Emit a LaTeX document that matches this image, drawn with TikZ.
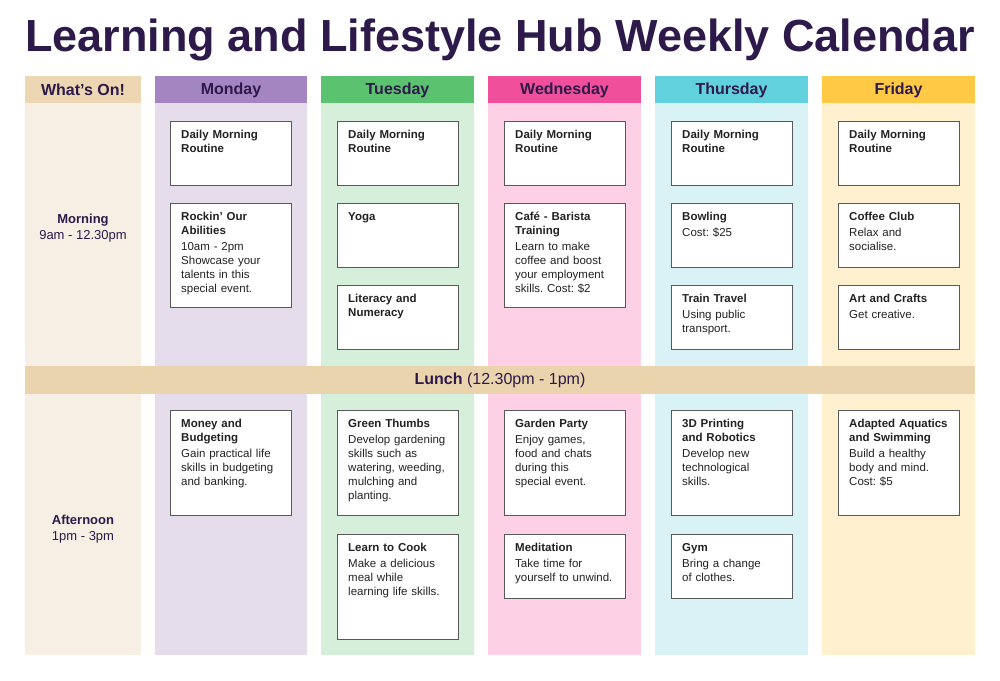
\documentclass[tikz,border=0pt]{standalone}
\usepackage{fontspec}
\setmainfont{Liberation Sans}
\frenchspacing
\definecolor{ink}{HTML}{2D1A4A}
\definecolor{txt}{HTML}{222222}
\definecolor{wh}{HTML}{ECD7B2}\definecolor{wb}{HTML}{F7EFE4}
\definecolor{mh}{HTML}{A585C1}\definecolor{mb}{HTML}{E6DDEC}
\definecolor{th}{HTML}{5BC26F}\definecolor{tb}{HTML}{D5EFDB}
\definecolor{dh}{HTML}{EF4F9B}\definecolor{db}{HTML}{FDD0E6}
\definecolor{hh}{HTML}{62D1DE}\definecolor{hb}{HTML}{D8F2F5}
\definecolor{fh}{HTML}{FFC845}\definecolor{fb}{HTML}{FFF0CF}
\definecolor{lunch}{HTML}{E9D4AE}
\tikzset{
 hdr/.style={inner sep=0pt,font=\fontsize{16}{18}\selectfont\bfseries,text=ink},
 cardbox/.style={draw=black!65,line width=0.7pt,fill=white},
 cardtxt/.style={anchor=north west,inner sep=0pt,text width=112pt,align=left,font=\fontsize{11.5}{14}\selectfont,text=txt},
 side/.style={align=center,inner sep=0pt,font=\fontsize{13}{16}\selectfont,text=ink},
}
\newcommand{\mycard}[6]{%
 \draw[cardbox] (#2,#3) rectangle (#2+121,#4);
 \node[cardtxt] (#1) at (#2+11,#3+9) {\textbf{#5}\\[2pt]#6};}
\newcommand{\mycol}[6]{%
 \fill[#4] (#2,103) rectangle (#3,655);
 \fill[#5] (#2,76) rectangle (#3,103);
 \node[hdr] (#1) at ({(#2+#3)/2},90) {#6};}
\begin{document}
\begin{tikzpicture}[x=1pt,y=-1pt]
\useasboundingbox (0,0) rectangle (1000,680);
\node[inner sep=0pt,font=\fontsize{45}{48}\selectfont\bfseries,text=ink] (title) at (500,40) {Learning and Lifestyle Hub Weekly Calendar};
\mycol{what}{25}{141}{wb}{wh}{What’s On!}
\mycol{mon}{155}{307}{mb}{mh}{Monday}
\mycol{tue}{321}{474}{tb}{th}{Tuesday}
\mycol{wed}{488}{641}{db}{dh}{Wednesday}
\mycol{thu}{655}{808}{hb}{hh}{Thursday}
\mycol{fri}{822}{975}{fb}{fh}{Friday}
\fill[lunch] (25,366) rectangle (975,394);
\node[inner sep=0pt,font=\fontsize{16}{18}\selectfont,text=ink] (lunch) at (500,380) {\textbf{Lunch} (12.30pm - 1pm)};
\node[side] (morning) at (83,228) {\textbf{Morning}\\9am - 12.30pm};
\node[side] (afternoon) at (83,529) {\textbf{Afternoon}\\1pm - 3pm};
% Monday
\mycard{m1}{170}{121}{185}{Daily Morning\\Routine}{}
\mycard{m2}{170}{203}{307}{Rockin’ Our\\Abilities}{10am - 2pm\\Showcase your\\talents in this\\special event.}
\mycard{m3}{170}{410}{515}{Money and\\Budgeting}{Gain practical life\\skills in budgeting\\and banking.}
% Tuesday
\mycard{t1}{337}{121}{185}{Daily Morning\\Routine}{}
\mycard{t2}{337}{203}{267}{Yoga}{}
\mycard{t3}{337}{285}{349}{Literacy and\\Numeracy}{}
\mycard{t4}{337}{410}{515}{Green Thumbs}{Develop gardening\\skills such as\\watering, weeding,\\mulching and\\planting.}
\mycard{t5}{337}{534}{639}{Learn to Cook}{Make a delicious\\meal while\\learning life skills.}
% Wednesday
\mycard{w1}{504}{121}{185}{Daily Morning\\Routine}{}
\mycard{w2}{504}{203}{307}{Café - Barista\\Training}{Learn to make\\coffee and boost\\your employment\\skills. Cost: \$2}
\mycard{w3}{504}{410}{515}{Garden Party}{Enjoy games,\\food and chats\\during this\\special event.}
\mycard{w4}{504}{534}{598}{Meditation}{Take time for\\yourself to unwind.}
% Thursday
\mycard{h1}{671}{121}{185}{Daily Morning\\Routine}{}
\mycard{h2}{671}{203}{267}{Bowling}{Cost: \$25}
\mycard{h3}{671}{285}{349}{Train Travel}{Using public\\transport.}
\mycard{h4}{671}{410}{515}{3D Printing\\and Robotics}{Develop new\\technological\\skills.}
\mycard{h5}{671}{534}{598}{Gym}{Bring a change\\of clothes.}
% Friday
\mycard{f1}{838}{121}{185}{Daily Morning\\Routine}{}
\mycard{f2}{838}{203}{267}{Coffee Club}{Relax and\\socialise.}
\mycard{f3}{838}{285}{349}{Art and Crafts}{Get creative.}
\mycard{f4}{838}{410}{515}{Adapted Aquatics\\and Swimming}{Build a healthy\\body and mind.\\Cost: \$5}
\end{tikzpicture}
\end{document}
